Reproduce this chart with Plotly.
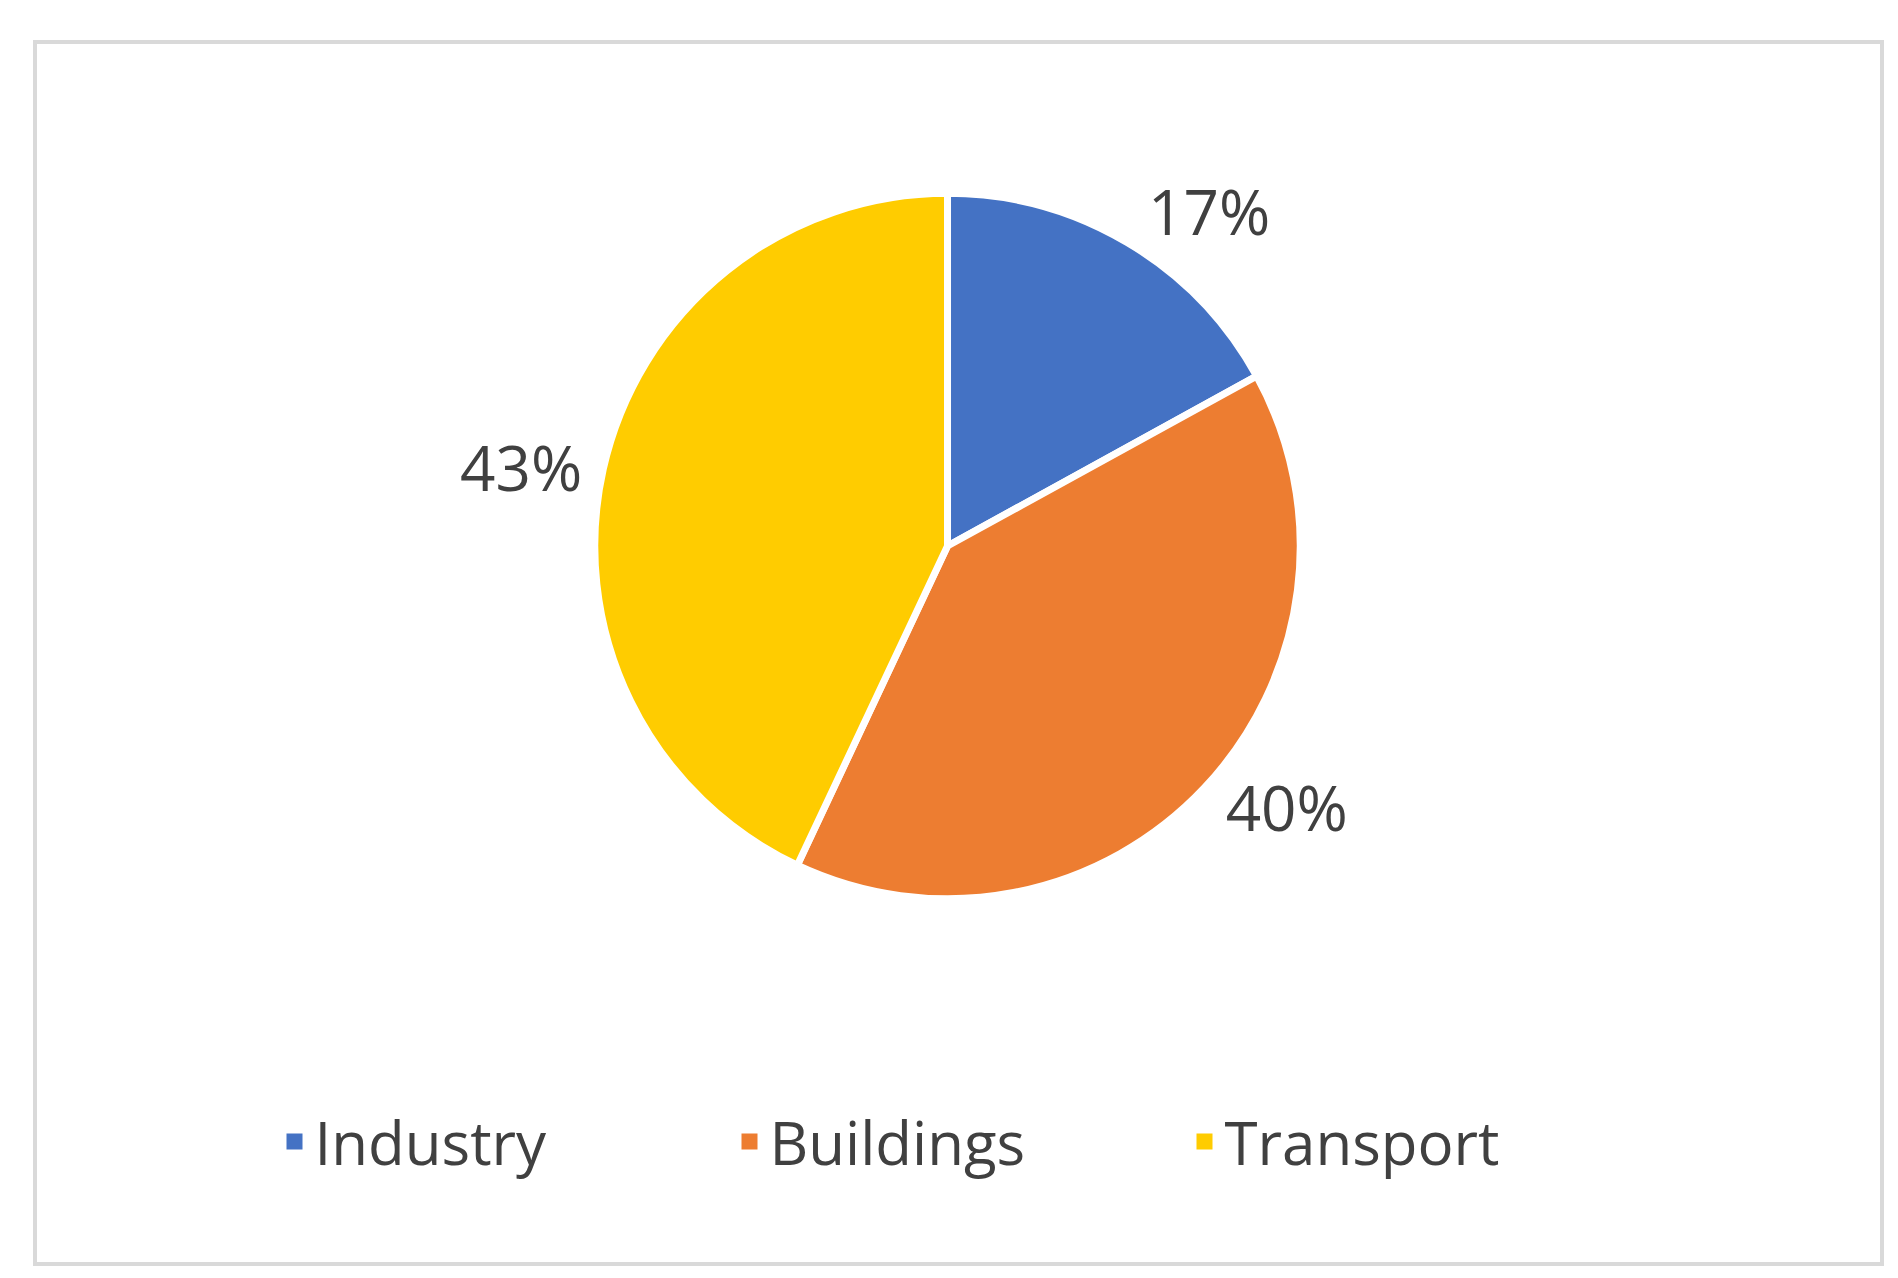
import plotly.graph_objects as go

categories = ["Industry", "Buildings", "Transport"]
values = [17, 40, 43]
colors = ["#4472C4", "#ED7D31", "#FFCC00"]

fig = go.Figure(go.Pie(
    labels=categories, values=values, sort=False, direction="clockwise", rotation=0,
    marker=dict(colors=colors, line=dict(color="white", width=7)),
    textinfo="percent", textposition="outside", texttemplate="%{percent:.0%}",
    textfont=dict(size=62, color="#404040", family="Open Sans"),
    domain=dict(x=[0.309, 0.681], y=[0.303, 0.855]),
    hoverinfo="skip", showlegend=False,
))
for c, col in zip(categories, colors):
    fig.add_trace(go.Scatter(x=[None], y=[None], mode="markers", name=c,
                             marker=dict(symbol="square", size=30, color=col)))
fig.update_layout(
    width=1898, height=1278, margin=dict(l=0, r=0, t=0, b=0),
    paper_bgcolor="white", plot_bgcolor="white",
    font=dict(family="Open Sans", color="#404040"),
    xaxis=dict(visible=False), yaxis=dict(visible=False),
    legend=dict(orientation="h", x=0.5, xanchor="center", y=0.113, yanchor="middle",
                font=dict(size=60, color="#404040"), entrywidth=410, entrywidthmode="pixels"),
    shapes=[dict(type="rect", xref="paper", yref="paper",
                 x0=27/1898, x1=1874/1898, y0=1-1256/1278, y1=1-34/1278,
                 line=dict(color="#D9D9D9", width=4))],
)
fig.write_html("out.html")
